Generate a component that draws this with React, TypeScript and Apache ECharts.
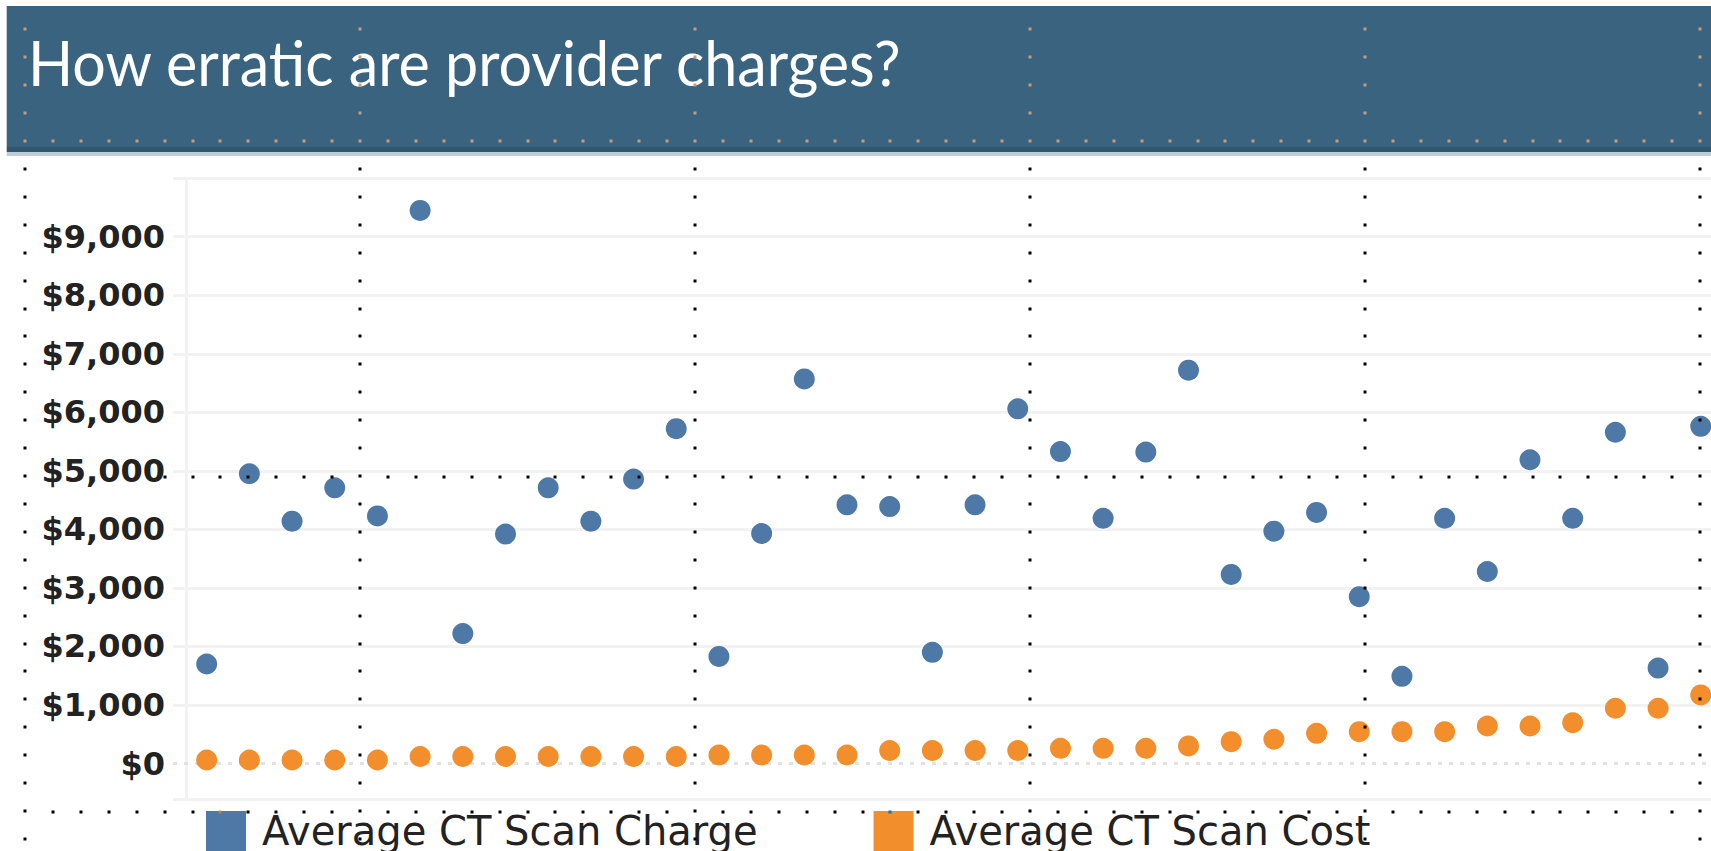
import { useEffect, useRef } from 'react';
import * as echarts from 'echarts';

const TITLE = 'How erratic are provider charges?';
const seriesNames = ['Average CT Scan Charge', 'Average CT Scan Cost'];
const seriesColors = ['#4e79a7', '#f28e2b'];

// provider index (x position)
const providers = [
  1, 2, 3, 4, 5, 6, 7, 8, 9, 10, 11, 12, 13, 14, 15, 16, 17, 18,
  19, 20, 21, 22, 23, 24, 25, 26, 27, 28, 29, 30, 31, 32, 33, 34, 35, 36,
];

const chargeValues = [
  1700, 4950, 4140, 4710, 4230, 9450, 2220, 3920, 4710, 4140, 4860, 5720,
  1830, 3930, 6570, 4420, 4390, 1900, 4420, 6060, 5330, 4190, 5320, 6720,
  3230, 3970, 4290, 2850, 1490, 4190, 3280, 5190, 4190, 5660, 1630, 5760,
];

const costValues = [
  60, 60, 60, 60, 60, 120, 120, 120, 120, 120, 120, 120,
  145, 145, 145, 145, 222, 222, 222, 222, 260, 260, 260, 300,
  373, 414, 516, 544, 544, 544, 641, 641, 698, 944, 944, 1171,
];

const W = 1711;
const H = 851;

export default function App() {
  const ref = useRef<HTMLDivElement>(null);

  useEffect(() => {
    const el = ref.current;
    if (!el) return;
    const chart = echarts.init(el, null, { renderer: 'svg' });

    // title width fit
    const titleFont = '61px Lato';
    let tw = 875;
    const ctx = document.createElement('canvas').getContext('2d');
    if (ctx) {
      ctx.font = titleFont;
      tw = ctx.measureText(TITLE).width || 875;
    }
    const titleScale = 875 / tw;

    // decorative dotted layout grid
    const step = 335 / 12;
    const cols = [25, 360, 695, 1030, 1365, 1700];
    const tan = '#c69c80';
    const squares = [
      { x0: 201, x1: 241, y0: 806, y1: 847, c: '#b18658' },
      { x0: 871, x1: 911, y0: 806, y1: 847, c: '#0d71d4' },
    ];
    const dotColor = (x: number, y: number) => {
      if (y < 147) return tan;
      for (const s of squares) {
        if (x >= s.x0 && x <= s.x1 && y >= s.y0 && y <= s.y1) return s.c;
      }
      return '#000';
    };
    const dots: any[] = [];
    const addDot = (x: number, y: number) => {
      dots.push({
        type: 'rect',
        silent: true,
        z: 100,
        shape: { x: Math.round(x) - 1.5, y: Math.round(y) - 1.5, width: 3, height: 3 },
        style: { fill: dotColor(x, y) },
      });
    };
    for (const cx of cols) {
      for (let k = -4; k <= 25; k++) {
        const y = 141 + k * step;
        if (y < 20 || y > H) continue;
        addDot(cx, y);
      }
    }
    const rows = [141, 477, 812];
    for (const ry of rows) {
      for (let k = 0; k <= 60; k++) {
        const x = 25 + k * step;
        if (ry === 477 && k >= 1 && k <= 4) continue;
        if (cols.some((c) => Math.abs(c - x) < 3)) continue;
        addDot(x, ry);
      }
    }

    const option: any = {
      animation: false,
      backgroundColor: '#ffffff',
      grid: { left: 173, right: 0, top: 178.2, bottom: H - 763.5, containLabel: false },
      xAxis: {
        type: 'value',
        min: 0.211,
        max: 36.24,
        show: false,
        splitLine: { show: false },
      },
      yAxis: {
        type: 'value',
        min: 0,
        max: 10000,
        interval: 1000,
        axisLine: { show: false },
        axisTick: { show: false },
        axisLabel: {
          showMaxLabel: false,
          margin: 8,
          fontFamily: 'DejaVu Sans',
          fontWeight: 'bold',
          fontSize: 32,
          color: '#222',
          formatter: (v: number) => '$' + v.toLocaleString('en-US'),
        },
        splitLine: {
          show: true,
          showMinLine: false,
          lineStyle: { color: '#f2f2f2', width: 3 },
        },
      },
      legend: {
        left: 201,
        top: 806,
        itemWidth: 40,
        itemHeight: 40,
        itemGap: 116,
        icon: 'rect',
        selectedMode: false,
        data: seriesNames,
        textStyle: {
          fontFamily: 'DejaVu Sans',
          fontSize: 40,
          color: '#222',
          padding: [0, 0, 6, 11],
        },
      },
      series: [
        {
          name: seriesNames[0],
          type: 'scatter',
          symbol: 'circle',
          symbolSize: 21,
          clip: false,
          itemStyle: { color: seriesColors[0], opacity: 1 },
          data: chargeValues.map((v, i) => [providers[i], v]),
        },
        {
          name: seriesNames[1],
          type: 'scatter',
          symbol: 'circle',
          symbolSize: 21,
          clip: false,
          itemStyle: { color: seriesColors[1], opacity: 1 },
          data: costValues.map((v, i) => [providers[i], v]),
          markLine: {
            silent: true,
            symbol: ['none', 'none'],
            label: { show: false },
            lineStyle: { color: '#e2e2e2', width: 3, type: [4, 7] },
            data: [{ yAxis: 0 }],
            z: 1,
          },
        },
      ],
      graphic: {
        elements: [
          {
            type: 'rect',
            silent: true,
            shape: { x: 6.7, y: 6, width: W - 6.7, height: 141 },
            style: { fill: '#39637f' },
          },
          {
            type: 'rect',
            silent: true,
            shape: { x: 6.7, y: 147, width: W - 6.7, height: 5 },
            style: { fill: '#31576f' },
          },
          {
            type: 'rect',
            silent: true,
            shape: { x: 6.7, y: 152, width: W - 6.7, height: 4 },
            style: { fill: '#bfcdd7' },
          },
          {
            type: 'text',
            silent: true,
            x: 28,
            y: 63,
            scaleX: titleScale,
            style: {
              text: TITLE,
              fill: '#ffffff',
              font: titleFont,
              verticalAlign: 'middle',
              align: 'left',
            },
          },
          {
            type: 'line',
            silent: true,
            shape: { x1: 186.5, y1: 177, x2: 186.5, y2: 800 },
            style: { stroke: '#f2f2f2', lineWidth: 3 },
          },
          {
            type: 'line',
            silent: true,
            shape: { x1: 173, y1: 799.5, x2: W, y2: 799.5 },
            style: { stroke: '#f2f2f2', lineWidth: 3 },
          },
          ...dots,
        ],
      },
    };

    chart.setOption(option);
    return () => chart.dispose();
  }, []);

  return (
    <div
      ref={ref}
      style={{ position: 'fixed', left: 0, top: 0, width: W, height: H, background: '#fff' }}
    />
  );
}
